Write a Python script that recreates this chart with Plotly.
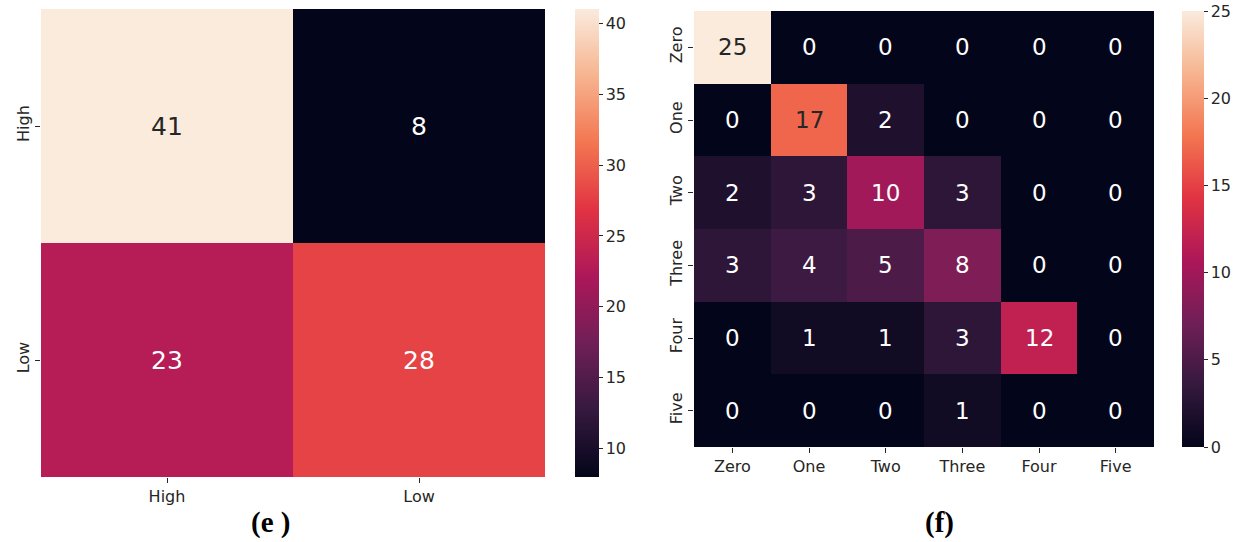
import plotly.graph_objects as go

# Confusion matrix (e): two-class
labels_e = ["High", "Low"]
values_e = [[41, 8],
            [23, 28]]

# Confusion matrix (f): six-class
labels_f = ["Zero", "One", "Two", "Three", "Four", "Five"]
values_f = [[25, 0, 0, 0, 0, 0],
            [0, 17, 2, 0, 0, 0],
            [2, 3, 10, 3, 0, 0],
            [3, 4, 5, 8, 0, 0],
            [0, 1, 1, 3, 12, 0],
            [0, 0, 0, 1, 0, 0]]

cbar_ticks_e = [10, 15, 20, 25, 30, 35, 40]
cbar_ticks_f = [0, 5, 10, 15, 20, 25]

# seaborn "rocket" colormap
rocket = [
    [0.0, "#03051a"],
    [1 / 7, "#35193e"],
    [2 / 7, "#701f57"],
    [3 / 7, "#ad1759"],
    [4 / 7, "#e13342"],
    [5 / 7, "#f37651"],
    [6 / 7, "#f6b48f"],
    [1.0, "#faebdd"],
]

W, H = 1251, 542


def xd(a, b):
    return [a / W, b / W]


def yd(top, bottom):
    return [1 - bottom / H, 1 - top / H]


tick_font = dict(family="DejaVu Sans", size=16, color="#262626")

fig = go.Figure()

e_min, e_max = min(map(min, values_e)), max(map(max, values_e))
f_min, f_max = min(map(min, values_f)), max(map(max, values_f))

fig.add_trace(go.Heatmap(
    z=values_e, x=labels_e, y=labels_e, colorscale=rocket,
    zmin=e_min, zmax=e_max, xaxis="x", yaxis="y",
    hoverinfo="skip",
    colorbar=dict(
        x=575 / W, xanchor="left", y=1 - 477 / H, yanchor="bottom",
        len=(477 - 9) / H, lenmode="fraction", thickness=24,
        thicknessmode="pixels", outlinewidth=0, xpad=0, ypad=0,
        tickvals=cbar_ticks_e, ticks="outside", ticklen=4,
        tickcolor="#262626", tickfont=tick_font,
    ),
))

fig.add_trace(go.Heatmap(
    z=values_f, x=labels_f, y=labels_f, colorscale=rocket,
    zmin=f_min, zmax=f_max, xaxis="x2", yaxis="y2",
    hoverinfo="skip",
    colorbar=dict(
        x=1182 / W, xanchor="left", y=1 - 447 / H, yanchor="bottom",
        len=(447 - 11) / H, lenmode="fraction", thickness=22,
        thicknessmode="pixels", outlinewidth=0, xpad=0, ypad=0,
        tickvals=cbar_ticks_f, ticks="outside", ticklen=4,
        tickcolor="#262626", tickfont=tick_font,
    ),
))


def text_color(v, lo, hi):
    frac = (v - lo) / (hi - lo)
    return "#262626" if frac > 0.62 else "#ffffff"


annotations = []
for i, row in enumerate(values_e):
    for j, v in enumerate(row):
        annotations.append(dict(
            x=labels_e[j], y=labels_e[i], xref="x", yref="y", text=str(v),
            showarrow=False,
            font=dict(family="DejaVu Sans", size=25,
                      color=text_color(v, e_min, e_max)),
        ))
for i, row in enumerate(values_f):
    for j, v in enumerate(row):
        annotations.append(dict(
            x=labels_f[j], y=labels_f[i], xref="x2", yref="y2", text=str(v),
            showarrow=False,
            font=dict(family="DejaVu Sans", size=23,
                      color=text_color(v, f_min, f_max)),
        ))

annotations.append(dict(
    x=270 / W, y=1 - 522 / H, xref="paper", yref="paper", text="<b>(e )</b>",
    xanchor="center", yanchor="middle", showarrow=False,
    font=dict(family="Liberation Serif", size=29, color="#000"),
))
annotations.append(dict(
    x=940 / W, y=1 - 522 / H, xref="paper", yref="paper", text="<b>(f)</b>",
    xanchor="center", yanchor="middle", showarrow=False,
    font=dict(family="Liberation Serif", size=29, color="#000"),
))

axis_common = dict(showgrid=False, zeroline=False, showline=False,
                   ticks="outside", ticklen=5, tickcolor="#262626",
                   tickfont=tick_font)

fig.update_layout(
    width=W, height=H,
    margin=dict(l=0, r=0, t=0, b=0),
    paper_bgcolor="white", plot_bgcolor="white",
    annotations=annotations,
    xaxis=dict(domain=xd(41, 545), anchor="y", **axis_common),
    yaxis=dict(domain=yd(9, 477), anchor="x", autorange="reversed",
               tickangle=-90, **axis_common),
    xaxis2=dict(domain=xd(694, 1154), anchor="y2", **axis_common),
    yaxis2=dict(domain=yd(11, 447), anchor="x2", autorange="reversed",
                tickangle=-90, **axis_common),
)

fig.write_html("out.html")
